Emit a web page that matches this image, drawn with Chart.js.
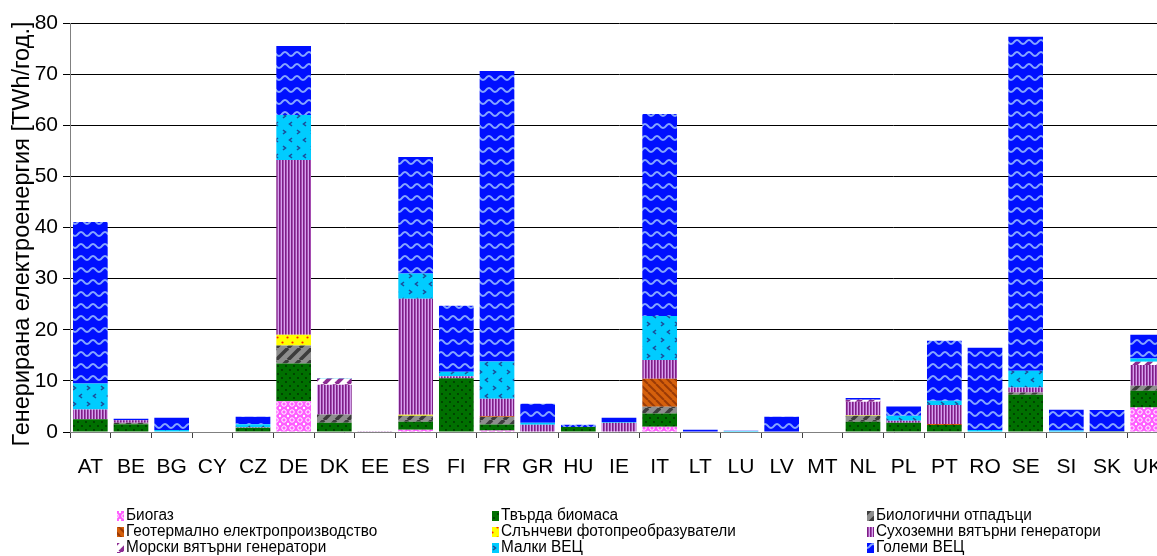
<!DOCTYPE html>
<html>
<head>
<meta charset="utf-8">
<script src="https://cdn.jsdelivr.net/npm/chart.js@4"></script>
<style>
  html, body { margin: 0; padding: 0; overflow: hidden; background: #fff; }
  #wrap { position: relative; width: 1185px; height: 556px; }
</style>
</head>
<body>
<div id="wrap"><canvas id="c" width="1185" height="556"></canvas></div>
<script>
// Renewable electricity generation by country and source, TWh per year
const countries = ['AT','BE','BG','CY','CZ','DE','DK','EE','ES','FI','FR','GR','HU','IE','IT','LT','LU','LV','MT','NL','PL','PT','RO','SE','SI','SK','UK'];

const biogas        = [0, 0.1, 0, 0, 0.1, 6.0, 0, 0, 0.45, 0, 0.3, 0, 0, 0, 1.05, 0, 0, 0, 0, 0, 0, 0, 0, 0, 0, 0, 4.8];
const solidBiomass  = [2.5, 1.4, 0, 0, 0.75, 7.4, 1.8, 0.1, 1.55, 10.5, 1.15, 0, 1.0, 0, 2.55, 0, 0, 0, 0, 2.0, 1.8, 1.35, 0, 7.3, 0, 0.15, 3.25];
const bioWaste      = [0, 0.3, 0, 0, 0, 3.5, 1.6, 0, 1.2, 0, 1.5, 0, 0, 0, 1.35, 0, 0, 0, 0, 1.2, 0, 0, 0, 0.45, 0, 0, 1.0];
const geothermal    = [0, 0, 0, 0, 0, 0, 0, 0, 0, 0, 0.15, 0, 0, 0, 5.45, 0, 0, 0, 0, 0, 0, 0.2, 0, 0, 0, 0, 0];
const solarPV       = [0, 0, 0, 0, 0, 2.1, 0, 0, 0.15, 0, 0, 0, 0, 0, 0, 0, 0, 0, 0, 0.1, 0, 0, 0, 0, 0, 0, 0];
const onshoreWind   = [1.9, 0.5, 0, 0, 0.1, 34.2, 5.85, 0.05, 22.7, 0.4, 3.4, 1.4, 0, 1.8, 3.7, 0, 0, 0, 0, 2.6, 0.4, 3.75, 0, 0.95, 0, 0, 4.05];
const offshoreWind  = [0, 0, 0, 0, 0, 0, 1.2, 0, 0, 0, 0, 0, 0, 0, 0, 0, 0, 0, 0, 0.4, 0, 0, 0, 0, 0, 0, 0.65];
const smallHydro    = [5.1, 0, 0.4, 0, 0.55, 8.8, 0.1, 0, 4.95, 0.9, 7.3, 0.4, 0, 0.15, 8.6, 0, 0.2, 0, 0, 0, 1.0, 0.8, 0.4, 3.3, 0.3, 0, 0.65];
const largeHydro    = [31.6, 0.3, 2.4, 0, 1.5, 13.5, 0, 0, 22.8, 12.9, 56.8, 3.75, 0.4, 0.85, 39.5, 0.45, 0.05, 3.0, 0, 0.35, 1.8, 11.75, 16.1, 65.3, 4.05, 4.15, 4.6];

const seriesNames = [
  'Биогаз', 'Твърда биомаса', 'Биологични отпадъци',
  'Геотермално електропроизводство', 'Слънчеви фотопреобразуватели', 'Сухоземни вятърни генератори',
  'Морски вятърни генератори', 'Малки ВЕЦ', 'Големи ВЕЦ'
];
const seriesValues = [biogas, solidBiomass, bioWaste, geothermal, solarPV, onshoreWind, offshoreWind, smallHydro, largeHydro];

const yTitle = 'Генерирана електроенергия [TWh/год.]';
const yMin = 0, yMax = 80, yStep = 10;

// ---- fill patterns -------------------------------------------------------
function tile(w, h, paint) {
  const c = document.createElement('canvas');
  c.width = w; c.height = h;
  const g = c.getContext('2d');
  paint(g, w, h);
  return g.createPattern(c, 'repeat');
}
function dot(g, x, y, r, col) { g.fillStyle = col; g.beginPath(); g.arc(x, y, r, 0, Math.PI * 2); g.fill(); }
function diag(g, w, h, col, lw, up) {
  g.strokeStyle = col; g.lineWidth = lw;
  for (let k = -1; k <= 1; k++) {
    g.beginPath();
    if (up) { g.moveTo(k * w, h); g.lineTo(k * w + w, 0); }
    else { g.moveTo(k * w, 0); g.lineTo(k * w + w, h); }
    g.stroke();
  }
}

const fills = [
  // biogas: magenta lattice
  tile(8, 8, (g) => {
    g.fillStyle = '#ff5cff'; g.fillRect(0, 0, 8, 8);
    g.strokeStyle = '#ffffff'; g.lineWidth = 1;
    g.beginPath(); g.arc(4, 4, 2.2, 0, Math.PI * 2); g.stroke();
    dot(g, 0, 0, 1.2, '#fff'); dot(g, 8, 0, 1.2, '#fff'); dot(g, 0, 8, 1.2, '#fff'); dot(g, 8, 8, 1.2, '#fff');
  }),
  // solid biomass: green with dark dots
  tile(8, 8, (g) => {
    g.fillStyle = '#007000'; g.fillRect(0, 0, 8, 8);
    dot(g, 2, 2, 0.9, '#003000'); dot(g, 6, 6, 0.9, '#003000');
  }),
  // biological waste: grey with dark diagonal bands
  tile(12, 12, (g, w, h) => {
    g.fillStyle = '#8e8e8e'; g.fillRect(0, 0, w, h);
    diag(g, w, h, '#3c3c3c', 3.5, true);
  }),
  // geothermal: orange with darker diagonal bands
  tile(8, 8, (g, w, h) => {
    g.fillStyle = '#d5600c'; g.fillRect(0, 0, w, h);
    diag(g, w, h, '#9a3a06', 2, false);
  }),
  // solar PV: yellow with red dots
  tile(10, 10, (g) => {
    g.fillStyle = '#ffff00'; g.fillRect(0, 0, 10, 10);
    dot(g, 2.5, 2.5, 1.1, '#ff2200'); dot(g, 7.5, 7.5, 1.1, '#ff2200');
  }),
  // onshore wind: fine vertical purple stripes
  tile(3, 4, (g) => {
    g.fillStyle = '#7c1f86'; g.fillRect(0, 0, 1, 4);
    g.fillStyle = '#a54cb0'; g.fillRect(1, 0, 1, 4);
    g.fillStyle = '#d6a2ee'; g.fillRect(2, 0, 1, 4);
  }),
  // offshore wind: white with purple diagonal bands
  tile(12, 12, (g, w, h) => {
    g.fillStyle = '#ffffff'; g.fillRect(0, 0, w, h);
    diag(g, w, h, '#8c2a92', 4, true);
  }),
  // small hydro: cyan with chevrons
  tile(14, 16, (g) => {
    g.fillStyle = '#00ccff'; g.fillRect(0, 0, 14, 16);
    g.strokeStyle = '#1c4d99'; g.lineWidth = 1.6;
    g.beginPath(); g.moveTo(3, 2); g.lineTo(5.5, 4); g.lineTo(3, 6); g.stroke();
    g.beginPath(); g.moveTo(12, 10); g.lineTo(9.5, 12); g.lineTo(12, 14); g.stroke();
  }),
  // large hydro: blue with light waves
  tile(12, 12, (g) => {
    g.fillStyle = '#0010ff'; g.fillRect(0, 0, 12, 12);
    g.strokeStyle = '#86a6ff'; g.lineWidth = 1.9;
    g.beginPath();
    for (let x = -1; x <= 13; x += 0.5) {
      const y = 6 + 2 * Math.sin(x / 12 * Math.PI * 2);
      if (x === -1) g.moveTo(x, y); else g.lineTo(x, y);
    }
    g.stroke();
  })
];

const datasets = seriesNames.map((name, i) => ({
  label: name,
  data: seriesValues[i],
  backgroundColor: fills[i],
  borderWidth: 0,
  barPercentage: 0.853,
  categoryPercentage: 1.0
}));

// ---- three-column legend below the plot ----------------------------------
const legendCols = [117, 492, 867];
const legendRows = [516, 532, 548];
const legendFont = '16px "Liberation Sans", Arial, sans-serif';
const legendSquash = 0.96;

const gridLegend = {
  id: 'gridLegend',
  afterDraw(chart) {
    const ctx = chart.ctx;
    ctx.save();
    ctx.font = legendFont;
    ctx.textBaseline = 'middle';
    ctx.textAlign = 'left';
    chart.data.datasets.forEach((ds, i) => {
      const x = legendCols[i % 3];
      const y = legendRows[Math.floor(i / 3)];
      ctx.fillStyle = ds.backgroundColor;
      ctx.fillRect(x, y - 5, 7, 10);
      ctx.save();
      ctx.translate(x + 9, y);
      ctx.scale(legendSquash, 1);
      ctx.fillStyle = '#000';
      ctx.fillText(ds.label, 0, 0);
      ctx.restore();
    });
    ctx.restore();
  }
};

// ---- vertical value-axis title -------------------------------------------
const axisTitle = {
  id: 'axisTitle',
  afterDraw(chart) {
    const ctx = chart.ctx;
    ctx.save();
    ctx.translate(23, 234);
    ctx.rotate(-Math.PI / 2);
    ctx.font = '23.5px "Liberation Sans", Arial, sans-serif';
    ctx.fillStyle = '#000';
    ctx.textAlign = 'center';
    ctx.textBaseline = 'middle';
    ctx.fillText(yTitle, 0, 0);
    ctx.restore();
  }
};

const axisFont = { family: '"Liberation Sans", Arial, sans-serif', size: 21 };

new Chart(document.getElementById('c').getContext('2d'), {
  type: 'bar',
  data: { labels: countries, datasets },
  options: {
    responsive: false,
    animation: false,
    layout: { padding: { left: 0, right: 17, top: 23, bottom: 74 } },
    plugins: { legend: { display: false }, tooltip: { enabled: false } },
    scales: {
      x: {
        stacked: true,
        grid: { drawOnChartArea: false, color: '#404040', tickLength: 6, offset: true },
        border: { color: '#808080' },
        ticks: { color: '#000', font: axisFont, padding: 17, maxRotation: 0, autoSkip: false },
        afterFit(s) { s.height = 50; }
      },
      y: {
        stacked: true,
        min: yMin, max: yMax,
        ticks: { stepSize: yStep, color: '#000', font: axisFont, padding: 5 },
        grid: { color: '#000', tickLength: 7 },
        border: { color: '#808080' },
        afterFit(s) { s.width = 70; }
      }
    }
  },
  plugins: [gridLegend, axisTitle]
});
</script>
</body>
</html>
